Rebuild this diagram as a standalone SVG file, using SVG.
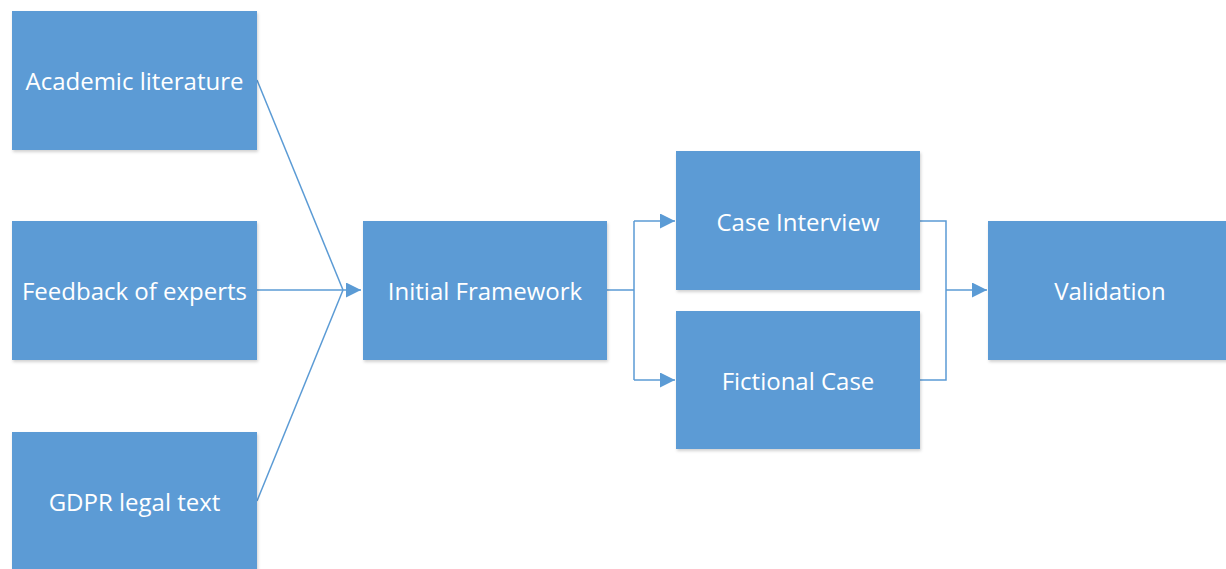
<svg xmlns="http://www.w3.org/2000/svg" width="1226" height="569" viewBox="0 0 1226 569">
<defs>
<filter id="sh" x="-5%" y="-5%" width="115%" height="120%">
<feDropShadow dx="1" dy="2" stdDeviation="1.5" flood-color="#000" flood-opacity="0.18"/>
</filter>
<marker id="ah" viewBox="0 0 10 10" refX="10" refY="5" markerWidth="17" markerHeight="15" markerUnits="userSpaceOnUse" orient="auto">
<path d="M0,0 L10,5 L0,10 Z" fill="#5B9BD5"/>
</marker>
<style>
.box{fill:#5B9BD5;filter:url(#sh);}
.lbl{fill:#fff;font-family:"Open Sans","Liberation Sans",sans-serif;font-size:24px;text-anchor:middle;dominant-baseline:central;}
.con{fill:none;stroke:#5B9BD5;stroke-width:1.5;}
</style>
</defs>
<rect width="1226" height="569" fill="#fff"/>
<g id="connectors">
<path class="con" d="M257,80 L343,290"/>
<path class="con" d="M257,501 L343,290"/>
<path class="con" d="M257,290 L361,290" marker-end="url(#ah)"/>
<path class="con" d="M607,290 L634,290 M634,221 L634,380"/>
<path class="con" d="M634,221 L675,221" marker-end="url(#ah)"/>
<path class="con" d="M634,380 L675,380" marker-end="url(#ah)"/>
<path class="con" d="M920,221 L946,221 L946,380 L920,380"/>
<path class="con" d="M946,290 L987,290" marker-end="url(#ah)"/>
</g>
<g id="academic"><rect class="box" x="12" y="11" width="245" height="139"/><text class="lbl" x="134.5" y="80">Academic literature</text></g>
<g id="feedback"><rect class="box" x="12" y="221" width="245" height="139"/><text class="lbl" x="134.5" y="290">Feedback of experts</text></g>
<g id="gdpr"><rect class="box" x="12" y="432" width="245" height="139"/><text class="lbl" x="134.5" y="501">GDPR legal text</text></g>
<g id="initial"><rect class="box" x="363" y="221" width="244" height="139"/><text class="lbl" x="485" y="290">Initial Framework</text></g>
<g id="case"><rect class="box" x="676" y="151" width="244" height="139"/><text class="lbl" x="798" y="221">Case Interview</text></g>
<g id="fictional"><rect class="box" x="676" y="311" width="244" height="138"/><text class="lbl" x="798" y="380">Fictional Case</text></g>
<g id="validation"><rect class="box" x="988" y="221" width="245" height="139"/><text class="lbl" x="1110" y="290">Validation</text></g>
</svg>
